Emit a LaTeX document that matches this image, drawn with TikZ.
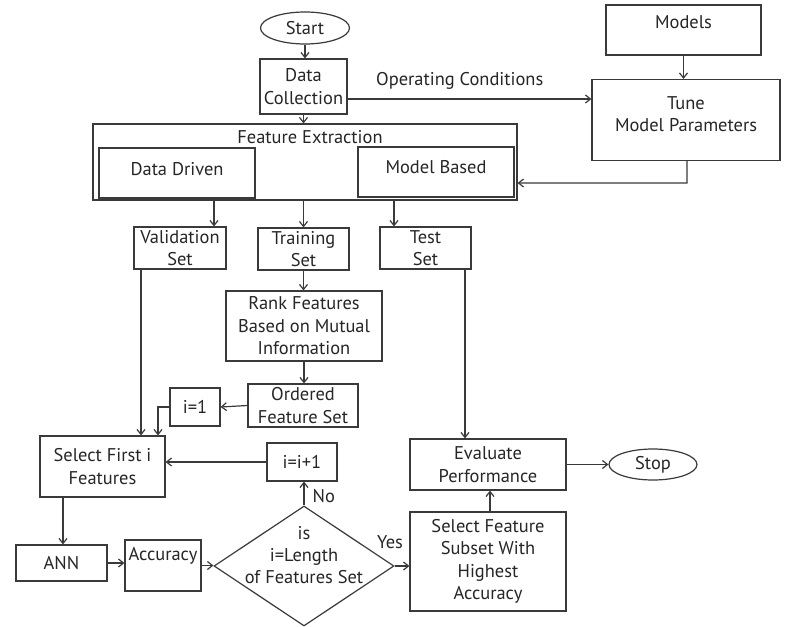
\documentclass[tikz,border=0pt]{standalone}
\usepackage{fontspec}
\setmainfont{PT Sans}
\usetikzlibrary{shapes.geometric,arrows.meta,calc}
\definecolor{ln}{HTML}{3A3A3A}
\definecolor{txt}{HTML}{262626}
\begin{document}
\begin{tikzpicture}[x=1bp,y=-1bp,
  every node/.style={font=\fontsize{18.5}{22.5}\selectfont, text=txt},
  box/.style 2 args={draw=ln, line width=1.2bp, inner sep=0pt, align=center,
    minimum width=#1bp, minimum height=#2bp},
  term/.style 2 args={ellipse, draw=ln, line width=1.2bp, inner sep=0pt,
    minimum width=#1bp, minimum height=#2bp},
  lbl/.style={inner sep=0pt, align=center},
  conn/.style={draw=ln, line width=1.2bp, -{Straight Barb[length=5bp,width=8bp]}},
  plain/.style={draw=ln, line width=1.2bp}]
\useasboundingbox (0,0) rectangle (786,627);
\fill[white] (0,0) rectangle (786,627);

% nodes
\node[term={89}{32}] (start) at (305,28) {Start};
\node[box={87}{55}] (datacol) at (303.5,86.5) {Data\\Collection};
\node[box={424}{76}] (fe) at (305,162) {};
\node[lbl] (fetext) at (310,137) {Feature Extraction};
\node[box={156}{50}, text depth=8bp] (dd) at (177,173) {Data Driven};
\node[box={156}{50}, text depth=10bp] (mb) at (436,172) {Model Based};
\node[box={155}{50}, text depth=16bp] (models) at (683.5,30) {Models};
\node[box={188}{81}, text depth=12bp] (tune) at (686,120) {Tune\\Model Parameters};
\node[box={92}{42}] (valset) at (180,248) {Validation\\Set};
\node[box={91}{42}] (trainset) at (303.5,249) {Training\\Set};
\node[box={91}{42}] (testset) at (425.5,248) {Test\\Set};
\node[box={156}{70}] (rank) at (304,326) {Rank Features\\Based on Mutual\\Information};
\node[box={110}{43}] (ordered) at (303,405.5) {Ordered\\Feature Set};
\node[box={50}{38}] (ione) at (195,407) {i=1};
\node[box={125}{61}] (select) at (102.5,466.5) {Select First i\\Features};
\node[box={70}{38}] (iinc) at (302,462) {i=i+1};
\node[diamond, draw=ln, line width=1.2bp, inner sep=0pt, minimum width=180bp,
  minimum height=120bp] (dec) at (304,566) {};
\node[lbl] (dectext) at (304,555) {is\\i=Length\\of Features Set};
\node[box={156}{99}] (subset) at (488,561.5) {Select Feature\\Subset With\\Highest\\Accuracy};
\node[box={156}{51}] (eval) at (488,464.5) {Evaluate\\Performance};
\node[term={88}{31}] (stop) at (653,464.5) {Stop};
\node[box={91}{36}] (ann) at (61.5,563) {ANN};
\node[box={76}{51}, text depth=24bp] (acc) at (163,565.5) {Accuracy};

% connectors
\draw[conn] (start.south) -- (start.south |- datacol.north);
\draw[conn] (datacol.south) -- (datacol.south |- fe.north);
\coordinate (oc) at ($(datacol.east)+(0,12.5)$);
\draw[conn] (oc) -- (oc -| tune.west)
  node[lbl, pos=0.46, above=9bp] (octext) {Operating Conditions};
\draw[conn] (models.south) -- (models.south |- tune.north);
\coordinate (tb) at ($(tune.south)+(1,0)$);
\draw[conn] (tb) -- ($(tb)+(0,22)$) -- ($(fe.east)+(0,21)$);

\coordinate (fv) at ($(valset.north)+(34,0)$);
\draw[conn] (fv |- fe.south) -- (fv);
\draw[conn] (trainset.north |- fe.south) -- (trainset.north);
\coordinate (ft) at ($(testset.north)+(-31.5,0)$);
\draw[conn] (ft |- fe.south) -- (ft);

\draw[conn] (trainset.south) -- (trainset.south |- rank.north);
\draw[conn] (rank.south) -- (rank.south |- ordered.north);
\draw[conn] (ordered.west) -- (ione.east);
\coordinate (si) at ($(select.north)+(55.5,0)$);
\draw[conn] (ione.west) -| (si);
\coordinate (vs) at ($(valset.south)+(-39,0)$);
\draw[conn] (vs) -- (vs |- select.north);
\draw[conn] (iinc.west) -- (iinc.west -| select.east);

\draw[conn] (dec.north) -- (dec.north |- iinc.south)
  node[lbl, pos=0.4, right=8bp] (no) {No};
\draw[conn] (dec.east) -- (dec.east -| subset.west);
\node[lbl] (yes) at (390,542) {Yes};
\coordinate (se) at ($(subset.north)+(2,0)$);
\draw[conn] (se) -- (se |- eval.south);
\coordinate (te) at ($(testset.south)+(39.5,0)$);
\draw[conn] (te) -- (te |- eval.north);
\draw[conn] (eval.east) -- (stop.west);

\coordinate (sa) at ($(select.south)+(-39.5,0)$);
\draw[conn] (sa) -- (sa |- ann.north);
\draw[conn] (ann.east) -- (ann.east -| acc.west);
\draw[conn] (acc.east) -- (acc.east -| dec.west);
\end{tikzpicture}
\end{document}
